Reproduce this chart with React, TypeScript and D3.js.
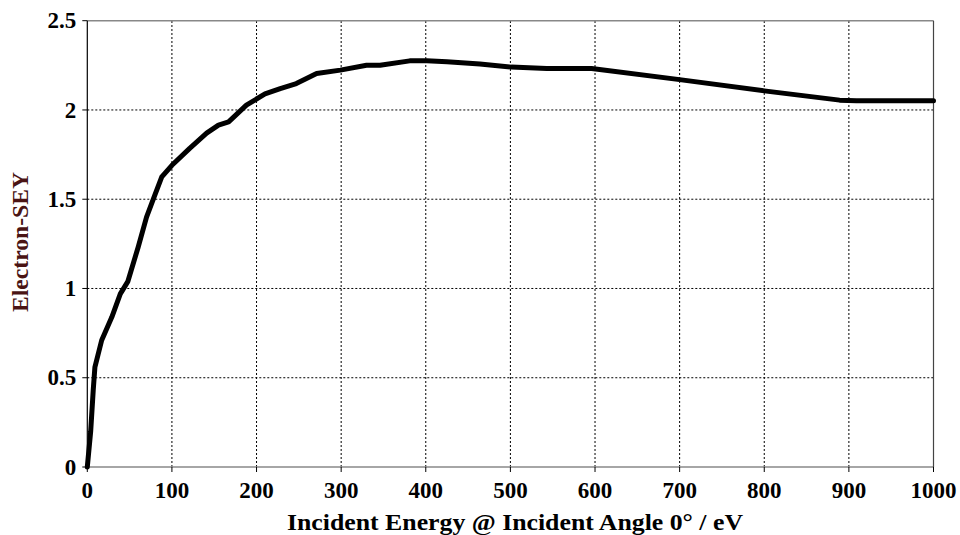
import * as d3 from "d3";

// incident energy (eV) and secondary electron yield
const energy = [0, 4, 7, 9, 17, 29, 39, 48, 60, 70, 78, 88, 100, 121, 141, 155, 167, 188, 210, 228, 247, 271, 299, 330, 346, 381, 401, 425, 464, 501, 543, 596, 700, 800, 889, 909, 1000];
const sey = [0, 0.2, 0.43, 0.56, 0.71, 0.84, 0.97, 1.04, 1.23, 1.4, 1.5, 1.625, 1.69, 1.785, 1.87, 1.915, 1.933, 2.027, 2.09, 2.12, 2.148, 2.204, 2.223, 2.25, 2.25, 2.275, 2.275, 2.27, 2.258, 2.24, 2.232, 2.232, 2.17, 2.107, 2.055, 2.051, 2.051];

const xTicks = [0, 100, 200, 300, 400, 500, 600, 700, 800, 900, 1000];
const yTicks = [0, 0.5, 1, 1.5, 2, 2.5];

const width = 960;
const height = 535;
const marginLeft = 87.3;
const marginRight = 26.5;
const marginTop = 20.7;
const marginBottom = 68;

const font = '"Liberation Serif", "Times New Roman", serif';

export default function App() {
    const x = d3.scaleLinear([0, 1000], [marginLeft, width - marginRight]);
    const y = d3.scaleLinear([0, 2.5], [height - marginBottom, marginTop]);
    const pts = energy.map((e, i) => [e, sey[i]] as [number, number]);
    const line = d3.line<[number, number]>(d => x(d[0]), d => y(d[1]));

    return (
        <svg width={width} height={height}
             style={{ position: "absolute", left: 0, top: 0, background: "#fff" }}>
            {/* grid */}
            <g stroke="#000" strokeWidth={1} strokeDasharray="2,2">
                {xTicks.slice(1, -1).map(t => (
                    <line key={t} x1={x(t)} x2={x(t)} y1={y(0)} y2={y(2.5)} />
                ))}
                {yTicks.slice(1, -1).map(t => (
                    <line key={t} x1={x(0)} x2={x(1000)} y1={y(t)} y2={y(t)} />
                ))}
            </g>
            {/* frame */}
            <line x1={x(0)} x2={x(1000)} y1={y(2.5)} y2={y(2.5)} stroke="#888" strokeWidth={1.5} />
            <line x1={x(0)} x2={x(1000)} y1={y(0)} y2={y(0)} stroke="#888" strokeWidth={1.5} />
            <line x1={x(1000)} x2={x(1000)} y1={y(0)} y2={y(2.5)} stroke="#444" strokeWidth={1.2} />
            <line x1={x(0)} x2={x(0)} y1={y(0)} y2={y(2.5)} stroke="#000" strokeWidth={1.2} />
            {/* ticks */}
            <g stroke="#000" strokeWidth={1}>
                {yTicks.map(t => (
                    <line key={t} x1={x(0) - 5} x2={x(0)} y1={y(t)} y2={y(t)} />
                ))}
                {xTicks.map(t => (
                    <line key={t} x1={x(t)} x2={x(t)} y1={y(0)} y2={y(0) + 5} />
                ))}
            </g>

            <path d={line(pts) || undefined} fill="none" stroke="#000" strokeWidth={5}
                  strokeLinejoin="round" strokeLinecap="round" />

            <g style={{ fontFamily: font, fontWeight: "bold", fontSize: 23 }} fill="#000">
                {yTicks.map(t => (
                    <text key={t} x={x(0) - 11} y={y(t)} dy="0.33em" textAnchor="end">{t}</text>
                ))}
                {xTicks.map(t => (
                    <text key={t} x={x(t)} y={y(0) + 31} textAnchor="middle">{t}</text>
                ))}
            </g>

            <text x={515} y={530} textAnchor="middle"
                  style={{ fontFamily: font, fontWeight: "bold", fontSize: 23 }}
                  textLength={456} lengthAdjust="spacingAndGlyphs">
                Incident Energy @ Incident Angle 0° / eV
            </text>
            <text transform={`translate(28,242) rotate(-90)`} textAnchor="middle"
                  style={{ fontFamily: font, fontWeight: "bold", fontSize: 23 }}
                  fill="#4a1414" textLength={140} lengthAdjust="spacingAndGlyphs">
                Electron-SEY
            </text>
        </svg>
    );
}
